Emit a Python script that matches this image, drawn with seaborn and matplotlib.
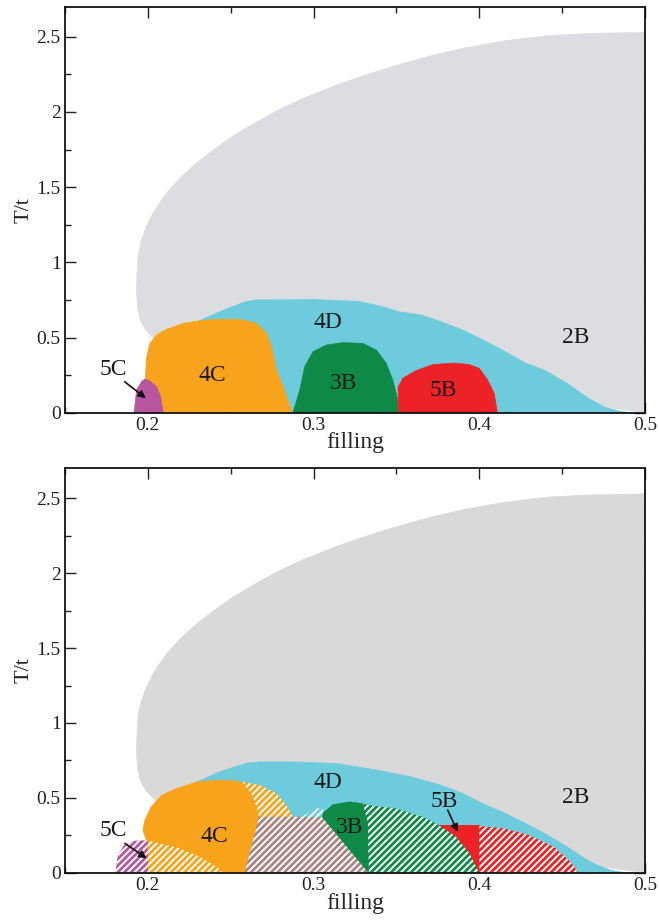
import matplotlib
matplotlib.use("Agg")
import matplotlib.pyplot as plt
import seaborn as sns

# ---- data (filling, T/t) ----

# 2B region (same outline in both panels): upper edge, right edge, hidden lower edge, lower-left edge
gray_x = [0.1932, 0.1935, 0.1942, 0.1960, 0.1990, 0.2030, 0.2076, 0.2127, 0.2203, 0.2291, 0.2380, 0.2506, 0.2633,
          0.2785, 0.2937, 0.3139, 0.3342, 0.3519, 0.3722, 0.3924, 0.4152, 0.4405, 0.4658, 0.5000,
          0.5000, 0.3000, 0.2200, 0.2063, 0.2025, 0.1987, 0.1954, 0.1937]
gray_y = [0.816, 0.930, 1.050, 1.145, 1.235, 1.325, 1.403, 1.480, 1.569, 1.658, 1.735, 1.835, 1.919,
          2.012, 2.090, 2.179, 2.256, 2.316, 2.378, 2.429, 2.473, 2.507, 2.522, 2.529,
          0.0, 0.30, 0.45, 0.472, 0.505, 0.550, 0.616, 0.705]

# top panel
cyan1_x = [0.2314, 0.243, 0.258, 0.265, 0.276, 0.301, 0.327, 0.340, 0.352, 0.365, 0.377, 0.390, 0.403, 0.415, 0.428,
           0.440, 0.453, 0.466, 0.476, 0.486, 0.492, 0.23]
cyan1_y = [0.612, 0.67, 0.735, 0.75, 0.75, 0.752, 0.74, 0.71, 0.67, 0.65, 0.605, 0.55, 0.48, 0.41, 0.33,
           0.28, 0.195, 0.095, 0.035, 0.007, 0.0, 0.0]
orange1_x = [0.197, 0.1993, 0.2012, 0.2053, 0.2113, 0.2213, 0.2314, 0.2414, 0.2555, 0.2656, 0.2716, 0.2746, 0.2776,
             0.2816, 0.2866, 0.2876]
orange1_y = [0.0, 0.372, 0.461, 0.517, 0.554, 0.594, 0.612, 0.621, 0.621, 0.594, 0.528, 0.439, 0.284,
             0.173, 0.018, 0.0]
purple1_x = [0.1918, 0.1932, 0.1962, 0.1982, 0.2012, 0.2053, 0.2077, 0.2093]
purple1_y = [0.0, 0.151, 0.206, 0.224, 0.211, 0.173, 0.106, 0.0]
green1_x = [0.2876, 0.2917, 0.2947, 0.2997, 0.3077, 0.3178, 0.3298, 0.3379, 0.3439, 0.3479, 0.3509, 0.3515]
green1_y = [0.0, 0.151, 0.306, 0.406, 0.45, 0.466, 0.461, 0.417, 0.328, 0.217, 0.084, 0.0]
red1_x = [0.3515, 0.351, 0.354, 0.362, 0.372, 0.385, 0.394, 0.400, 0.405, 0.409, 0.411]
red1_y = [0.0, 0.17, 0.23, 0.28, 0.32, 0.33, 0.32, 0.295, 0.22, 0.13, 0.0]

# bottom panel
cyan2_x = [0.230, 0.243, 0.260, 0.268, 0.288, 0.314, 0.339, 0.359, 0.377, 0.390, 0.402, 0.415, 0.428, 0.440, 0.453,
           0.463, 0.471, 0.480, 0.486, 0.492, 0.23]
cyan2_y = [0.607, 0.673, 0.733, 0.74, 0.74, 0.729, 0.684, 0.64, 0.584, 0.53, 0.462, 0.40, 0.329, 0.26, 0.173,
           0.10, 0.051, 0.015, 0.004, 0.0, 0.0]
orange2_x = [0.2, 0.199, 0.197, 0.1982, 0.202, 0.2084, 0.2172, 0.2299, 0.2426, 0.2528, 0.2565, 0.2625, 0.2656,
             0.2671, 0.2635, 0.2605, 0.2585]
orange2_y = [0.0, 0.22, 0.284, 0.351, 0.44, 0.518, 0.562, 0.607, 0.618, 0.613, 0.607, 0.529, 0.44,
             0.369, 0.218, 0.107, 0.0]
orange2_top_x = [0.2565, 0.2675, 0.2776, 0.2836, 0.2876, 0.2671, 0.2656, 0.2625]
orange2_top_y = [0.607, 0.585, 0.529, 0.451, 0.373, 0.373, 0.44, 0.529]
orange2_low_x = [0.2, 0.2073, 0.2193, 0.2314, 0.2414, 0.2454, 0.2]
orange2_low_y = [0.215, 0.196, 0.163, 0.107, 0.04, 0.0, 0.0]
purple2_x = [0.1805, 0.1817, 0.1855, 0.1919, 0.2, 0.2]
purple2_y = [0.0, 0.107, 0.184, 0.213, 0.218, 0.0]
brown2_x = [0.2585, 0.2671, 0.3053, 0.3334]
brown2_y = [0.0, 0.373, 0.373, 0.0]
cyanh2_x = [0.293, 0.2975, 0.302, 0.3058, 0.3053]
cyanh2_y = [0.373, 0.405, 0.428, 0.432, 0.373]
green2_x = [0.3053, 0.306, 0.3117, 0.3217, 0.3298, 0.3328, 0.3334]
green2_y = [0.373, 0.40, 0.454, 0.473, 0.461, 0.336, 0.0]
green2h_x = [0.3298, 0.3338, 0.350, 0.366, 0.374, 0.386, 0.3941, 0.399, 0.400, 0.3334, 0.3328]
green2h_y = [0.461, 0.451, 0.429, 0.373, 0.329, 0.24, 0.129, 0.02, 0.0, 0.0, 0.336]
red2_x = [0.370, 0.400, 0.400, 0.370]
red2_y = [0.32, 0.32, 0.0, 0.0]
red2h_x = [0.400, 0.415, 0.430, 0.445, 0.454, 0.460, 0.400]
red2h_y = [0.311, 0.296, 0.251, 0.173, 0.084, 0.0, 0.0]

xticks = [0.2, 0.3, 0.4, 0.5]
xtick_labels = ["0.2", "0.3", "0.4", "0.5"]
yticks = [0, 0.5, 1, 1.5, 2, 2.5]
ytick_labels = ["0", "0.5", "1", "1.5", "2", "2.5"]

labels1 = {"2B": (0.458, 0.50), "4D": (0.309, 0.60), "4C": (0.239, 0.25), "3B": (0.318, 0.195), "5B": (0.378, 0.15),
           "5C": (0.179, 0.29)}
labels2 = {"2B": (0.458, 0.50), "4D": (0.309, 0.60), "4C": (0.240, 0.24), "3B": (0.322, 0.30),
           "5B": (0.379, 0.475), "5C": (0.179, 0.285)}

GRAY1 = "#dcdde0"
GRAY2 = "#d9d9d9"
CYAN = "#6ecbdc"
ORANGE = "#f7a31c"
GREEN = "#0e8a46"
RED = "#ec2226"
PURPLE = "#b5569f"
BROWN = "#a88580"

sns.set_theme(style="ticks")
plt.rcParams["font.family"] = ["Liberation Serif", "DejaVu Serif"]
plt.rcParams["hatch.linewidth"] = 1.4


def region(ax, xs, ys, color, z, hatched=False):
    if hatched:
        ax.fill(xs, ys, facecolor=color, edgecolor="white", hatch="/////", linewidth=0, zorder=z)
    else:
        ax.fill(xs, ys, facecolor=color, edgecolor="none", linewidth=0, zorder=z)
        # thin outline in the same colour, same layer, to soften the edge
        sns.lineplot(x=xs + xs[:1], y=ys + ys[:1], sort=False, estimator=None, color=color, lw=0.5,
                     ax=ax, zorder=z + 0.01)


def style_axes(ax):
    ax.set_xlim(0.15, 0.5)
    ax.set_ylim(0, 2.7)
    ax.set_xticks(xticks, xtick_labels)
    ax.set_yticks(yticks, ytick_labels)
    ax.set_xticks([0.15, 0.25, 0.35, 0.45], minor=True)
    ax.set_yticks([0.25, 0.75, 1.25, 1.75, 2.25], minor=True)
    ax.tick_params(which="both", direction="in", top=True, right=True, width=1.0, colors="#222222",
                   labelsize=14, pad=3)
    ax.tick_params(which="major", length=8)
    ax.tick_params(which="minor", length=4.5)
    for s in ax.spines.values():
        s.set_linewidth(1.3)
        s.set_color("#111111")
        s.set_zorder(50)
    ax.set_xlabel("filling", fontsize=17, labelpad=-1)
    ax.set_ylabel("T/t", fontsize=16, labelpad=2)


def arrow(ax, tail, head):
    ax.annotate("", xy=head, xytext=tail, zorder=40,
                arrowprops=dict(arrowstyle="-|>", color="#111111", lw=1.2, mutation_scale=11, shrinkA=0, shrinkB=0))


fig = plt.figure(figsize=(6.59, 9.21), dpi=100)
ax1 = fig.add_axes([0.0986, 0.5519, 0.880, 0.4408])
ax2 = fig.add_axes([0.0986, 0.0524, 0.880, 0.4391])

# top panel
region(ax1, gray_x, gray_y, GRAY1, 1)
region(ax1, cyan1_x, cyan1_y, CYAN, 2)
region(ax1, orange1_x, orange1_y, ORANGE, 3)
region(ax1, purple1_x, purple1_y, PURPLE, 4)
region(ax1, green1_x, green1_y, GREEN, 5)
region(ax1, red1_x, red1_y, RED, 6)
for name, (lx, ly) in labels1.items():
    ax1.text(lx, ly, name, fontsize=17, ha="center", va="center", color="#1a1a1a", zorder=30)
arrow(ax1, (0.186, 0.206), (0.1988, 0.096))
style_axes(ax1)

# bottom panel
region(ax2, gray_x, gray_y, GRAY2, 1)
region(ax2, cyan2_x, cyan2_y, CYAN, 2)
region(ax2, orange2_x, orange2_y, ORANGE, 3)
region(ax2, orange2_top_x, orange2_top_y, ORANGE, 4, hatched=True)
region(ax2, orange2_low_x, orange2_low_y, ORANGE, 5, hatched=True)
region(ax2, purple2_x, purple2_y, PURPLE, 6, hatched=True)
region(ax2, brown2_x, brown2_y, BROWN, 7, hatched=True)
region(ax2, cyanh2_x, cyanh2_y, CYAN, 8, hatched=True)
region(ax2, green2_x, green2_y, GREEN, 9)
region(ax2, red2_x, red2_y, RED, 10)
region(ax2, green2h_x, green2h_y, GREEN, 11, hatched=True)
region(ax2, red2h_x, red2h_y, RED, 12, hatched=True)
for name, (lx, ly) in labels2.items():
    ax2.text(lx, ly, name, fontsize=17, ha="center", va="center", color="#1a1a1a", zorder=30)
arrow(ax2, (0.1862, 0.196), (0.1993, 0.096))
arrow(ax2, (0.381, 0.418), (0.387, 0.273))
style_axes(ax2)

fig.savefig("out.png", dpi=100)
